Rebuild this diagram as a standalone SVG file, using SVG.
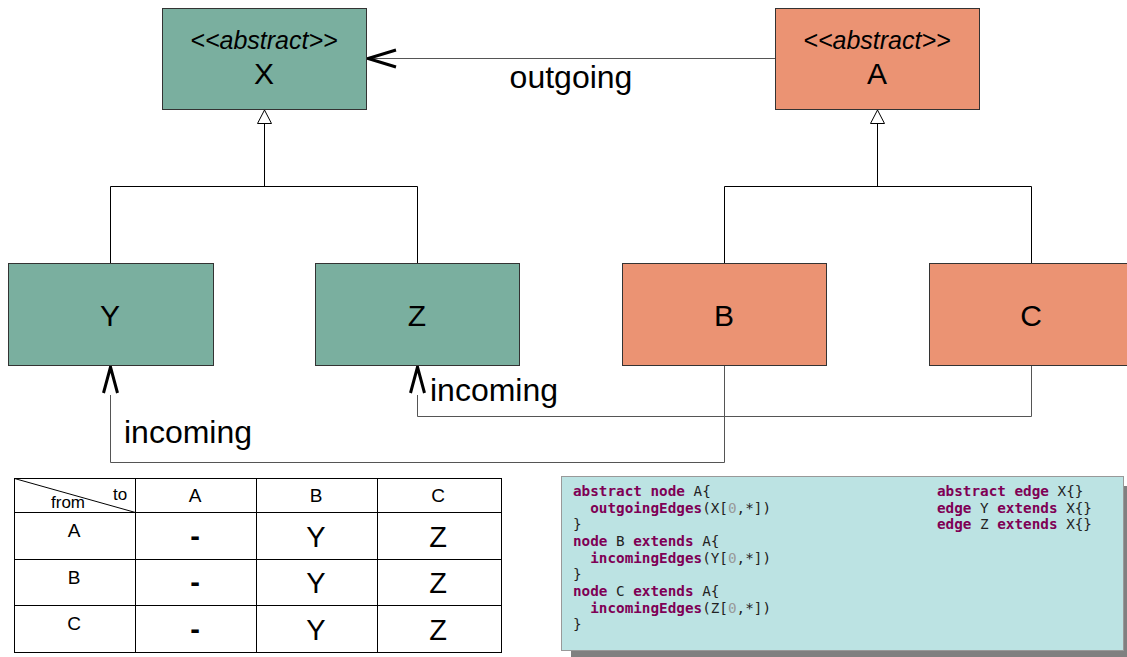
<svg xmlns="http://www.w3.org/2000/svg" width="1127" height="657" viewBox="0 0 1127 657">
<style>
.teal{fill:#7aaf9f;stroke:#333;stroke-width:1}
.orange{fill:#eb9373;stroke:#333;stroke-width:1}
.lbl{font-family:"Liberation Sans",Arial,sans-serif;font-size:30px;fill:#000;text-anchor:middle}
.el{font-family:"Liberation Sans",Arial,sans-serif;font-size:32px;fill:#000;text-anchor:middle}
.st{font-family:"Liberation Sans",Arial,sans-serif;font-size:25px;font-style:italic;fill:#000;text-anchor:middle}
.conn{fill:none;stroke:#000;stroke-width:1}
.conng{fill:none;stroke:#555;stroke-width:1}
.tri{fill:#fff;stroke:#000;stroke-width:1}
.tbl{fill:none;stroke:#000;stroke-width:1}
.tt{font-family:"Liberation Sans",Arial,sans-serif;font-size:19px;fill:#000;text-anchor:middle}
.tv{font-family:"Liberation Sans",Arial,sans-serif;font-size:29px;fill:#000;text-anchor:middle}
.code{font-family:"DejaVu Sans Mono",monospace;font-size:14.3px;fill:#222}
.kw{font-weight:bold;fill:#7f0055}
.num{fill:#999}
</style>
<g id="connectors">
<path class="conn" d="M264.5 186.5 V123"/>
<polygon class="tri" points="264.5,110 271.5,123.5 257.5,123.5"/>
<path class="conn" d="M110.5 263 V186.5 H417.5 V263"/>
<path class="conn" d="M877.5 186.5 V123"/>
<polygon class="tri" points="877.5,110 884.5,123.5 870.5,123.5"/>
<path class="conn" d="M724.5 263 V186.5 H1031.5 V263"/>
<path class="conng" d="M775 58.5 H370"/>
<path d="M396 50 L368 58.5 L396 67" fill="none" stroke="#000" stroke-width="3"/>
<text class="el" x="571" y="88">outgoing</text>
<path class="conng" d="M724.5 365 V462.5 H110.5 V395"/>
<path d="M103.5 393 L110.5 367 L117.5 393" fill="none" stroke="#000" stroke-width="3"/>
<text class="el" x="188" y="443">incoming</text>
<path class="conng" d="M1031.5 365 V416.5 H417.5 V395"/>
<path d="M410.5 393 L417.5 367 L424.5 393" fill="none" stroke="#000" stroke-width="3"/>
<text class="el" x="494" y="401">incoming</text>
</g>
<g id="node-X">
<rect class="teal" x="162.5" y="8.5" width="204" height="101"/>
<text class="st" x="264" y="49">&lt;&lt;abstract&gt;&gt;</text>
<text class="lbl" x="264" y="84">X</text>
</g>
<g id="node-A">
<rect class="orange" x="775.5" y="8.5" width="204" height="101"/>
<text class="st" x="877" y="49">&lt;&lt;abstract&gt;&gt;</text>
<text class="lbl" x="877" y="84">A</text>
</g>
<g id="node-Y">
<rect class="teal" x="8.5" y="263.5" width="205" height="102"/>
<text class="lbl" x="110" y="326">Y</text>
</g>
<g id="node-Z">
<rect class="teal" x="315.5" y="263.5" width="204" height="102"/>
<text class="lbl" x="417" y="326">Z</text>
</g>
<g id="node-B">
<rect class="orange" x="622.5" y="263.5" width="204" height="102"/>
<text class="lbl" x="724" y="326">B</text>
</g>
<g id="node-C">
<rect class="orange" x="929.5" y="263.5" width="204" height="102"/>
<text class="lbl" x="1031" y="326">C</text>
</g>
<g id="table">
<rect class="tbl" x="14.5" y="478.5" width="487" height="174"/>
<path class="tbl" d="M135.5 478 V652 M256.5 478 V652 M377.5 478 V652 M14 512.5 H501 M14 559.5 H501 M14 605.5 H501 M14.5 478.5 L135.5 512.5"/>
<text class="tt" x="120" y="500" style="font-size:17px">to</text>
<text class="tt" x="68" y="508" style="font-size:17px">from</text>
<text class="tt" x="195" y="502">A</text>
<text class="tt" x="316" y="502">B</text>
<text class="tt" x="438" y="502">C</text>
<text class="tt" x="74" y="537">A</text>
<text class="tt" x="74" y="584">B</text>
<text class="tt" x="74" y="630">C</text>
<text class="tv" x="195" y="546" font-weight="bold">-</text>
<text class="tv" x="316" y="547">Y</text>
<text class="tv" x="438" y="547">Z</text>
<text class="tv" x="195" y="592" font-weight="bold">-</text>
<text class="tv" x="316" y="593">Y</text>
<text class="tv" x="438" y="593">Z</text>
<text class="tv" x="195" y="639" font-weight="bold">-</text>
<text class="tv" x="316" y="640">Y</text>
<text class="tv" x="438" y="640">Z</text>
</g>
<g id="code">
<rect x="571" y="486" width="562" height="174" fill="#808080"/>
<rect x="561.5" y="476.5" width="562" height="174" fill="#bce3e3" stroke="#999" stroke-width="1"/>
<text class="code" x="573" y="496"><tspan class="kw">abstract</tspan> <tspan class="kw">node</tspan> A{</text>
<text class="code" x="573" y="513" xml:space="preserve">  <tspan class="kw">outgoingEdges</tspan>(X[<tspan class="num">0</tspan>,*])</text>
<text class="code" x="573" y="529">}</text>
<text class="code" x="573" y="546"><tspan class="kw">node</tspan> B <tspan class="kw">extends</tspan> A{</text>
<text class="code" x="573" y="563" xml:space="preserve">  <tspan class="kw">incomingEdges</tspan>(Y[<tspan class="num">0</tspan>,*])</text>
<text class="code" x="573" y="579">}</text>
<text class="code" x="573" y="596"><tspan class="kw">node</tspan> C <tspan class="kw">extends</tspan> A{</text>
<text class="code" x="573" y="613" xml:space="preserve">  <tspan class="kw">incomingEdges</tspan>(Z[<tspan class="num">0</tspan>,*])</text>
<text class="code" x="573" y="629">}</text>
<text class="code" x="937" y="496"><tspan class="kw">abstract</tspan> <tspan class="kw">edge</tspan> X{}</text>
<text class="code" x="937" y="513"><tspan class="kw">edge</tspan> Y <tspan class="kw">extends</tspan> X{}</text>
<text class="code" x="937" y="529"><tspan class="kw">edge</tspan> Z <tspan class="kw">extends</tspan> X{}</text>
</g>
</svg>
